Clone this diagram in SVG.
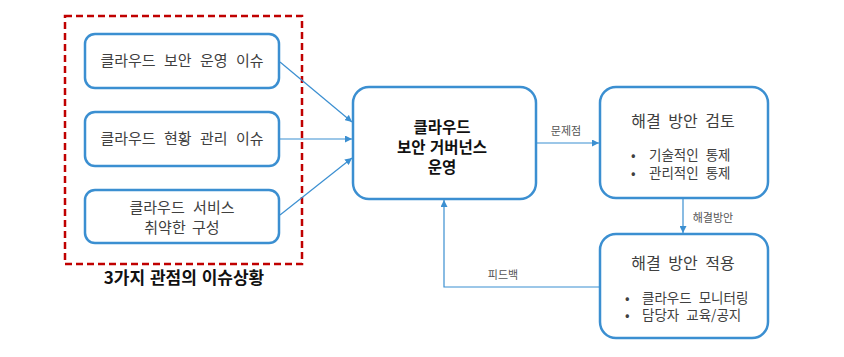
<svg xmlns="http://www.w3.org/2000/svg" width="844" height="357" viewBox="0 0 844 357">
<style>
.box{fill:#fff;stroke:#3b8fd1;stroke-width:2.5}
.t{font-family:"Noto Sans CJK KR","Noto Sans",sans-serif;fill:#404040;font-size:15px;text-anchor:middle;word-spacing:3px}
.b{font-weight:bold;fill:#111;font-size:15.5px;word-spacing:1px}
.h{font-size:16px;word-spacing:4px}
.s{font-size:11px;fill:#555;word-spacing:0}
.l{text-anchor:start;font-size:13.5px;word-spacing:4px}
.c{fill:none;stroke:#3b8fd1;stroke-width:1.2}
</style>
<defs>
<marker id="ah" viewBox="0 0 10 10" refX="10" refY="5" markerWidth="7" markerHeight="7" orient="auto" markerUnits="userSpaceOnUse">
<path d="M0,0 L10,5 L0,10 z" fill="#3b8fd1"/>
</marker>
</defs>
<rect width="844" height="357" fill="#fff"/>
<g id="group-issues">
<rect x="65" y="16" width="237" height="248" fill="none" stroke="#c00000" stroke-width="2.5" stroke-dasharray="7,4"/>
<text class="t b" x="184" y="284" style="font-size:17px">3가지 관점의 이슈상황</text>
</g>
<g id="n1">
<rect class="box" x="85" y="34" width="194" height="54" rx="10"/>
<text class="t" x="182" y="66" style="word-spacing:5px">클라우드 보안 운영 이슈</text>
</g>
<g id="n2">
<rect class="box" x="85" y="112" width="194" height="54" rx="10"/>
<text class="t" x="182" y="144" style="word-spacing:5px">클라우드 현황 관리 이슈</text>
</g>
<g id="n3">
<rect class="box" x="85" y="190" width="194" height="53" rx="10"/>
<text class="t" x="182" y="213" style="word-spacing:5px">클라우드 서비스</text>
<text class="t" x="182" y="233">취약한 구성</text>
</g>
<g id="center">
<rect class="box" x="353" y="87" width="183" height="112" rx="16"/>
<text class="t b" x="442" y="133">클라우드</text>
<text class="t b" x="442" y="153">보안 거버넌스</text>
<text class="t b" x="442" y="173">운영</text>
</g>
<g id="review">
<rect class="box" x="600" y="87" width="168" height="111" rx="16"/>
<text class="t h" x="683" y="127">해결 방안 검토</text>
<text class="t l" x="631" y="160"><tspan>•</tspan><tspan x="649">기술적인 통제</tspan></text>
<text class="t l" x="631" y="178"><tspan>•</tspan><tspan x="649">관리적인 통제</tspan></text>
</g>
<g id="apply">
<rect class="box" x="600" y="234" width="168" height="104" rx="16"/>
<text class="t h" x="683" y="269">해결 방안 적용</text>
<text class="t l" x="625" y="303"><tspan>•</tspan><tspan x="642">클라우드 모니터링</tspan></text>
<text class="t l" x="625" y="320"><tspan>•</tspan><tspan x="642">담당자 교육/공지</tspan></text>
</g>
<g id="connectors">
<line class="c" x1="280" y1="62" x2="352" y2="122" marker-end="url(#ah)"/>
<line class="c" x1="280" y1="139" x2="352" y2="139" marker-end="url(#ah)"/>
<line class="c" x1="280" y1="215" x2="352" y2="158" marker-end="url(#ah)"/>
<line class="c" x1="537" y1="143" x2="599" y2="143" marker-end="url(#ah)"/>
<text class="t s" x="566" y="135">문제점</text>
<line class="c" x1="683" y1="199" x2="683" y2="233" marker-end="url(#ah)"/>
<text class="t s" x="713" y="222">해결방안</text>
<polyline class="c" points="600,287 444,287 444,200" marker-end="url(#ah)"/>
<text class="t s" x="503" y="279">피드백</text>
</g>
</svg>
